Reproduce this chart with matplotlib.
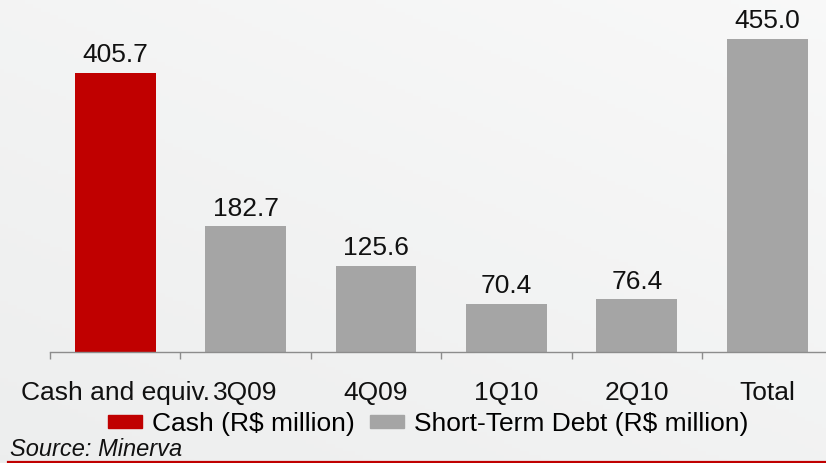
import matplotlib
matplotlib.use("Agg")
import matplotlib.pyplot as plt
import numpy as np
from matplotlib.patches import Patch

categories = ["Cash and equiv.", "3Q09", "4Q09", "1Q10", "2Q10", "Total"]
values = [405.7, 182.7, 125.6, 70.4, 76.4, 455.0]
series = ["Cash (R$ million)", "Short-Term Debt (R$ million)", "Short-Term Debt (R$ million)",
          "Short-Term Debt (R$ million)", "Short-Term Debt (R$ million)", "Short-Term Debt (R$ million)"]
series_colors = {"Cash (R$ million)": "#C00000", "Short-Term Debt (R$ million)": "#A5A5A5"}
labels = ["405.7", "182.7", "125.6", "70.4", "76.4", "455.0"]
source = "Source: Minerva"

plt.rcParams['font.family'] = ['Liberation Sans', 'DejaVu Sans']

W, H = 826, 463
fig = plt.figure(figsize=(W / 100, H / 100), dpi=100)

# background gradient
bg = fig.add_axes([0, 0, 1, 1])
gx, gy = np.meshgrid(np.linspace(0, 1, 200), np.linspace(0, 1, 120))
grad = np.clip(0.35 * gx + 0.45 * (1 - gy), 0, 1)
c0 = np.array([0.929, 0.933, 0.933])
c1 = np.array([0.985, 0.985, 0.985])
img = c0[None, None, :] * (1 - grad[..., None]) + c1[None, None, :] * grad[..., None]
bg.imshow(img, extent=[0, 1, 0, 1], aspect='auto', origin='upper')
bg.axis('off')

# main axes: left 50px, bottom at y=352px, category width 130.4px
left = 50 / W
cat_w = 130.4 / W
bottom = (H - 352) / H
ax = fig.add_axes([left, bottom, 6 * cat_w, 352 / H])
ax.patch.set_alpha(0)

x = np.arange(len(categories))
colors = [series_colors[s] for s in series]
ax.bar(x, values, width=0.62, color=colors, zorder=2)
ax.set_xlim(-0.5, len(categories) - 0.5)
ax.set_ylim(0, 455.0 * 352 / 313)

for xi, v, lab in zip(x, values, labels):
    ax.annotate(lab, (xi, v), xytext=(0, 4), textcoords='offset points',
                ha='center', va='bottom', fontsize=19, color='#111111')

for s in ['top', 'right', 'left']:
    ax.spines[s].set_visible(False)
ax.spines['bottom'].set_color('#8C8C8C')
ax.spines['bottom'].set_linewidth(1.0)
ax.set_yticks([])
ax.set_xticks(np.arange(-0.5, len(categories), 1.0))
ax.set_xticklabels([])
ax.tick_params(axis='x', direction='out', length=5, color='#8C8C8C', width=1.0)
ax.set_xticks(x, minor=True)
ax.set_xticklabels(categories, minor=True, fontsize=19, color='#111111')
ax.tick_params(axis='x', which='minor', length=0, pad=21)

handles = [Patch(color=series_colors[k]) for k in series_colors]
fig.legend(handles, list(series_colors.keys()), loc='center', bbox_to_anchor=(428 / W, 1 - 424 / H),
           ncol=2, frameon=False, fontsize=19, handlelength=1.3, handleheight=0.4,
           handletextpad=0.35, columnspacing=0.6, borderaxespad=0, borderpad=0)

fig.text(10 / W, 1 - 449 / H, source, fontsize=17, style='italic', ha='left', va='center', color='#111111')

fig.add_artist(plt.Line2D([8 / W, 1], [1 - 461.5 / H, 1 - 461.5 / H], color='#C00000', lw=1.6,
                          transform=fig.transFigure))

fig.savefig("out.png", dpi=100)
